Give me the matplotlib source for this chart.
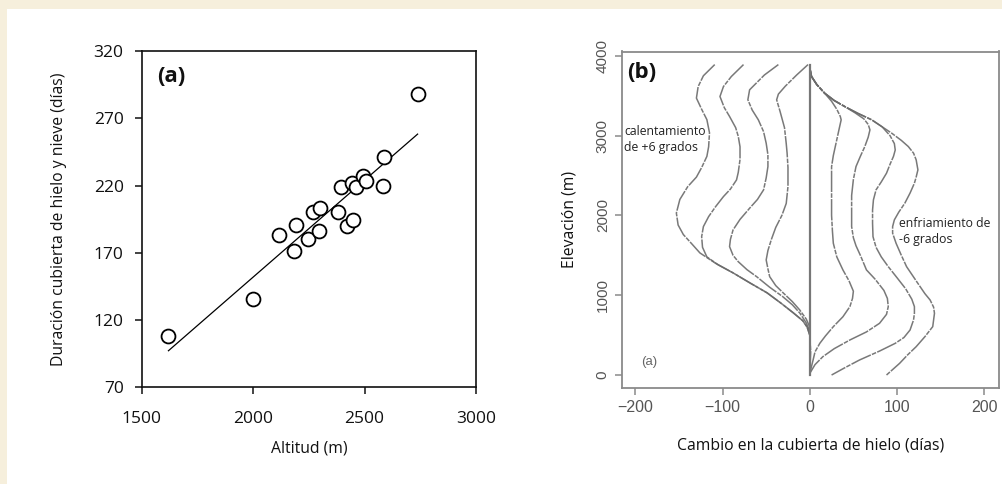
import numpy as np
import matplotlib
matplotlib.use("Agg")
import matplotlib.pyplot as plt
from matplotlib.patches import Rectangle

# ---------------- Panel (a) data ----------------
altitude = [1620, 2000, 2117, 2191, 2185, 2246, 2270, 2299, 2294, 2381,
            2393, 2420, 2450, 2445, 2462, 2494, 2505, 2589, 2584, 2738]
duration = [108, 136, 183, 191, 171, 180, 200, 203, 186, 200,
            219, 190, 194, 222, 219, 227, 223, 241, 220, 288]
a_xticks = [1500, 2000, 2500, 3000]
a_yticks = [70, 120, 170, 220, 270, 320]

# ---------------- Panel (b) data ----------------
# warming curves (+6 degrees), outermost first
w1_x = [-109, -122, -128, -130, -124, -118, -115, -116, -118, -124, -130, -140, -149, -153,
        -151, -145, -135, -126, -108, -88, -68, -49, -33, -19, -8, -3, 0, 1, 0]
w1_y = [3890, 3750, 3615, 3470, 3330, 3200, 3035, 2860, 2740, 2600, 2480, 2360, 2200, 2030,
        1880, 1760, 1640, 1530, 1400, 1280, 1150, 1030, 900, 780, 680, 600, 500, 300, 0]
w2_x = [-76, -90, -99, -103, -98, -92, -85, -82, -80, -80, -82, -84, -91, -99, -108, -116,
        -122, -124, -123, -118, -105, -88, -68, -49, -33, -19, -8, -3, 0]
w2_y = [3890, 3740, 3615, 3490, 3350, 3240, 3100, 2990, 2860, 2700, 2540, 2445, 2330, 2236,
        2110, 1985, 1860, 1734, 1600, 1480, 1380, 1280, 1150, 1030, 900, 780, 680, 600, 500]
w3_x = [-36, -52, -63, -69, -71, -66, -59, -53, -50, -48, -48, -50, -53, -60, -69, -80, -88,
        -91, -92, -88, -82, -72, -61, -46, -31, -20, -11.5, -4, 0]
w3_y = [3890, 3760, 3640, 3574, 3449, 3320, 3198, 3050, 2905, 2760, 2612, 2470, 2320, 2200,
        2090, 1950, 1818, 1700, 1609, 1500, 1420, 1320, 1233, 1100, 982, 880, 777, 652, 550]
w4_x = [-2, -15, -28, -36, -38, -34, -29, -27, -26, -25, -25, -27, -32, -39, -44, -48, -50,
        -48, -46, -39, -30, -20, -11.5, -4, 0]
w4_y = [3890, 3760, 3620, 3520, 3449, 3300, 3100, 2900, 2780, 2600, 2362, 2150, 2000, 1850,
        1700, 1560, 1442, 1330, 1233, 1120, 1024, 920, 815, 700, 600]

# cooling curves (-6 degrees), innermost first
c1_x = [0, 2, 8, 17, 25, 31, 35, 36, 34, 30, 27, 25, 25, 25, 25, 26, 27, 31, 38, 45, 50, 49,
        46, 38, 27, 18, 11.5, 6, 3.8, 0]
c1_y = [3850, 3741, 3640, 3532, 3430, 3330, 3240, 3198, 3100, 2900, 2750, 2612, 2400, 2200,
        2000, 1800, 1651, 1480, 1317, 1180, 1050, 960, 857, 730, 606, 490, 397, 290, 188, 21]
c2_x = [0, 2, 8, 17, 28, 40, 52, 62, 67, 69, 67, 63, 58, 53, 50, 48, 48, 48, 50, 53, 58, 65,
        75, 85, 89, 90, 88, 80, 65, 46, 28, 15, 6, 0]
c2_y = [3850, 3741, 3640, 3532, 3440, 3365, 3285, 3210, 3140, 3072, 2980, 2860, 2740, 2612,
        2450, 2250, 2069, 1860, 1720, 1620, 1500, 1317, 1200, 1060, 960, 857, 760, 648, 540,
        439, 330, 230, 130, 20]
c3_x = [0, 2, 8, 17, 28, 40, 55, 71, 83, 92, 97, 98, 96, 92, 88, 82, 76, 73, 72, 72, 72.5,
        76, 82, 90, 100, 110, 117, 120, 120, 119, 115, 108, 98, 80, 57, 40, 25]
c3_y = [3850, 3741, 3640, 3532, 3440, 3365, 3280, 3198, 3110, 3000, 2900, 2820, 2740, 2640,
        2529, 2420, 2320, 2195, 2069, 1900, 1734, 1600, 1480, 1358, 1220, 1080, 950, 857, 773,
        690, 564, 470, 397, 300, 188, 90, 0]
c4_x = [0, 2, 8, 17, 28, 40, 55, 71, 83, 94, 105, 113, 119, 122, 124, 122, 120, 115, 109,
        102, 97, 95, 95, 99, 105, 111, 122, 132, 138, 142, 143, 141, 132, 122, 112, 103, 88]
c4_y = [3850, 3741, 3640, 3532, 3440, 3365, 3280, 3198, 3110, 3030, 2940, 2863, 2780, 2696,
        2571, 2480, 2404, 2280, 2153, 2040, 1944, 1860, 1777, 1650, 1500, 1358, 1180, 1020,
        940, 850, 773, 606, 480, 355, 250, 146, 0]
zero_line_x = [0, 0]
zero_line_y = [0, 3890]
b_xticks = [-200, -100, 0, 100, 200]
b_yticks = [0, 1000, 2000, 3000, 4000]

# ---------------- Figure ----------------
W, H = 1003, 484
fig = plt.figure(figsize=(W / 100, H / 100), dpi=100)
fig.patch.set_facecolor("#f6efdc")
fig.add_artist(Rectangle((7 / W, 0), 1 - 7 / W, 1 - 9 / H, transform=fig.transFigure,
                         facecolor="white", edgecolor="none", zorder=-10))

HUM = ["Open Sans", "DejaVu Sans"]
ARI = ["Liberation Sans", "DejaVu Sans"]

# ----- Panel (a) -----
axa = fig.add_axes([141.7 / W, 1 - 387.3 / H, (476 - 141.7) / W, (387.3 - 51) / H])
axa.set_facecolor("white")
axa.scatter(altitude, duration, s=100, facecolors="white", edgecolors="black",
            linewidths=1.3, zorder=3)
coef = np.polyfit(altitude, duration, 1)
xs = np.array([min(altitude), max(altitude)])
axa.plot(xs, np.polyval(coef, xs), color="black", lw=0.9, zorder=2)
axa.set_xlim(1500, 3000)
axa.set_ylim(70, 320)
axa.set_xticks(a_xticks)
axa.set_yticks(a_yticks)
for sp in axa.spines.values():
    sp.set_linewidth(1.2)
    sp.set_color("#111")
axa.tick_params(direction="out", length=5, width=1.1, colors="#111")
axa.tick_params(axis="x", pad=12)
axa.tick_params(axis="y", pad=8)
for lab in axa.get_xticklabels() + axa.get_yticklabels():
    lab.set_fontfamily(HUM)
    lab.set_fontsize(12.5)
axa.set_xlabel("Altitud (m)", fontfamily=HUM, fontsize=11.3, labelpad=10, color="#111")
axa.set_ylabel("Duración cubierta de hielo y nieve (días)", fontfamily=HUM, fontsize=11.3,
               labelpad=19, color="#111")
axa.text(0.045, 0.955, "(a)", transform=axa.transAxes, fontfamily=HUM, fontsize=16,
         fontweight="bold", va="top", ha="left", color="#111")

# ----- Panel (b) -----
axb = fig.add_axes([622.3 / W, 1 - 387.7 / H, (999 - 622.3) / W, (387.7 - 51.5) / H])
axb.set_facecolor("white")
cc = "#6a6a6a"
for xx, yy in [(w1_x, w1_y), (w2_x, w2_y), (w3_x, w3_y), (w4_x, w4_y),
               (c1_x, c1_y), (c2_x, c2_y), (c3_x, c3_y), (c4_x, c4_y)]:
    axb.plot(xx, yy, color=cc, lw=1.1, alpha=0.9, solid_joinstyle="round",
             dashes=(14, 0.8, 3, 0.8))
axb.plot(zero_line_x, zero_line_y, color="#777", lw=1.6)
axb.set_xlim(-215, 217)
axb.set_ylim(-159, 4054)
axb.set_xticks(b_xticks)
axb.set_yticks(b_yticks)
axb.set_xticklabels(["\u2212200", "\u2212100", "0", "100", "200"])
for sp in axb.spines.values():
    sp.set_linewidth(1.3)
    sp.set_color("#8a8a8a")
axb.tick_params(direction="out", length=5, width=1.1, colors="#8a8a8a", labelcolor="#555",
                pad=4)
for lab in axb.get_xticklabels():
    lab.set_fontfamily(ARI)
    lab.set_fontsize(11.5)
for lab in axb.get_yticklabels():
    lab.set_fontfamily(ARI)
    lab.set_fontsize(11)
    lab.set_rotation(90)
    lab.set_va("center")
axb.set_xlabel("Cambio en la cubierta de hielo (días)", fontfamily=HUM, fontsize=11.3,
               labelpad=16, color="#111")
axb.set_ylabel("Elevación (m)", fontfamily=HUM, fontsize=11.3, labelpad=13, color="#111")
axb.text(0.012, 0.97, "(b)", transform=axb.transAxes, fontfamily=HUM, fontsize=16,
         fontweight="bold", va="top", ha="left", color="#111")
axb.text(0.05, 0.077, "(a)", transform=axb.transAxes, fontfamily=ARI, fontsize=9.5,
         va="center", ha="left", color="#666")
axb.text(-213, 2950, "calentamiento\nde +6 grados", fontfamily=HUM, fontsize=8.8,
         va="center", ha="left", color="#222", linespacing=1.3)
axb.text(102, 1800, "enfriamiento de\n-6 grados", fontfamily=HUM, fontsize=8.8,
         va="center", ha="left", color="#222", linespacing=1.3)

fig.savefig("out.png", dpi=100, facecolor=fig.get_facecolor())
